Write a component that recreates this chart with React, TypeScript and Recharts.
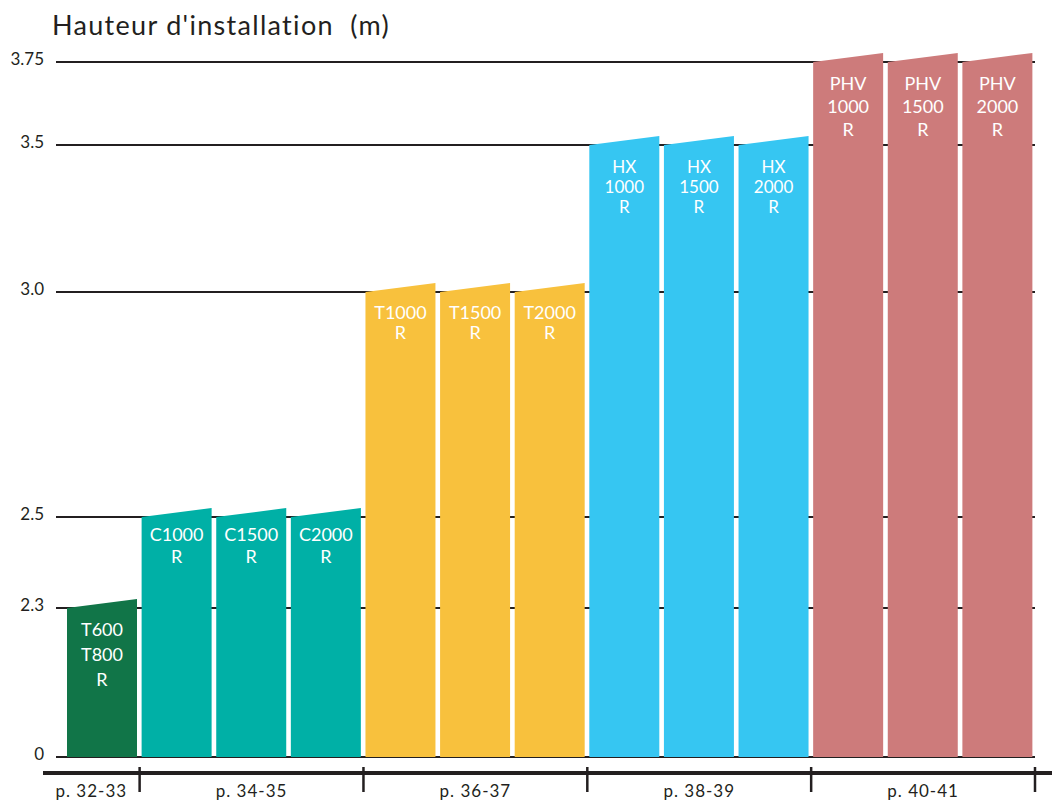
import React from 'react';
import { BarChart, Bar, XAxis, YAxis, CartesianGrid } from 'recharts';

// ---------- data ----------
const models = [
  'T600\nT800\nR',
  'C1000\nR', 'C1500\nR', 'C2000\nR',
  'T1000\nR', 'T1500\nR', 'T2000\nR',
  'HX\n1000\nR', 'HX\n1500\nR', 'HX\n2000\nR',
  'PHV\n1000\nR', 'PHV\n1500\nR', 'PHV\n2000\nR',
];
const heights = [2.3, 2.5, 2.5, 2.5, 3.0, 3.0, 3.0, 3.5, 3.5, 3.5, 3.75, 3.75, 3.75];
const groupIndex = [0, 1, 1, 1, 2, 2, 2, 3, 3, 3, 4, 4, 4];
const pageLabels = ['p. 32-33', 'p. 34-35', 'p. 36-37', 'p. 38-39', 'p. 40-41'];
const yTicks = [0, 2.3, 2.5, 3.0, 3.5, 3.75];
const yTickLabels = ['0', '2.3', '2.5', '3.0', '3.5', '3.75'];
const title = "Hauteur d'installation\u00a0 (m)";

// ---------- styles / layout ----------
const groupColors = ['#117548', '#00B0A6', '#F8C13D', '#36C6F2', '#CD7B7B'];
const labelStyle = [
  { first: 22, gap: 25, size: 18 },
  { first: 18, gap: 22, size: 18 },
  { first: 21, gap: 20, size: 18 },
  { first: 22, gap: 20, size: 17 },
  { first: 22, gap: 23, size: 18 },
];
// broken (piecewise) y axis: fraction of plot height at each tick value
const Y_KNOT_FRACTIONS = [0, 0.2144, 0.3453, 0.6691, 0.8806, 1];
const W = 1052;
const H = 800;
const Y_AXIS_W = 43;
const PAD_L = 22;
const PAD_R = 17;
const SLANT = 9;
const FONT = 'Lato, "Open Sans", sans-serif';
const INK = '#231f20';

// ---------- piecewise scale ----------
function piecewiseScale(knotsV: number[], knotsF: number[]): any {
  let dom = [knotsV[0], knotsV[knotsV.length - 1]];
  let rng = [0, 1];
  const frac = (v: number) => {
    const n = knotsV.length;
    let i = 0;
    while (i < n - 2 && v > knotsV[i + 1]) i++;
    const v0 = knotsV[i], v1 = knotsV[i + 1];
    const f0 = knotsF[i], f1 = knotsF[i + 1];
    return f0 + ((v - v0) / (v1 - v0)) * (f1 - f0);
  };
  const unfrac = (f: number) => {
    const n = knotsF.length;
    let i = 0;
    while (i < n - 2 && f > knotsF[i + 1]) i++;
    const v0 = knotsV[i], v1 = knotsV[i + 1];
    const f0 = knotsF[i], f1 = knotsF[i + 1];
    return v0 + ((f - f0) / (f1 - f0)) * (v1 - v0);
  };
  const s: any = (v: number) => rng[0] + (rng[1] - rng[0]) * frac(Number(v));
  s.domain = (d?: number[]) => {
    if (d === undefined) return dom.slice();
    dom = d.slice();
    return s;
  };
  s.range = (r?: number[]) => {
    if (r === undefined) return rng.slice();
    rng = r.slice();
    return s;
  };
  s.invert = (px: number) => unfrac((px - rng[0]) / (rng[1] - rng[0]));
  s.copy = () => piecewiseScale(knotsV, knotsF).domain(dom).range(rng);
  s.ticks = () => knotsV.slice();
  s.tickFormat = () => (v: number) => String(v);
  s.nice = () => s;
  s.clamp = () => s;
  s.rangeRound = (r: number[]) => s.range(r);
  return s;
}
const yScale = piecewiseScale(yTicks, Y_KNOT_FRACTIONS);

// ---------- derived tables ----------
const data = models.map((m, i) => ({ name: m, h: heights[i], g: groupIndex[i], slot: i + 0.5 }));
const groupEnds: number[] = [];
const groupStarts: number[] = [];
groupIndex.forEach((g, i) => {
  if (i === 0 || groupIndex[i - 1] !== g) groupStarts.push(i);
  if (i === groupIndex.length - 1 || groupIndex[i + 1] !== g) groupEnds.push(i + 1);
});
const slotPx = (W - Y_AXIS_W - PAD_L - PAD_R) / models.length;
const axisStartVal = -PAD_L / slotPx;
const pageCenters = groupStarts.map((s, k) => ((k === 0 ? axisStartVal : s) + groupEnds[k]) / 2);
const pageTicks = [...groupEnds, ...pageCenters];

// ---------- custom renderers ----------
const SlantBar = (props: any) => {
  const { x, y, width, height, payload } = props;
  const g = payload.g as number;
  const st = labelStyle[g];
  const lines = String(payload.name).split('\n');
  const d = `M${x},${y + height} L${x},${y} L${x + width},${y - SLANT} L${x + width},${y + height} Z`;
  return (
    <g>
      <path d={d} fill={groupColors[g]} />
      {lines.map((t, i) => (
        <text
          key={i}
          x={x + width / 2}
          y={y + st.first + i * st.gap + st.size * 0.36}
          textAnchor="middle"
          fill="#ffffff"
          fontSize={st.size}
          fontFamily={FONT}
        >
          {t}
        </text>
      ))}
    </g>
  );
};

const YTick = (props: any) => {
  const { x, y, payload } = props;
  const idx = yTicks.findIndex((t) => Math.abs(t - payload.value) < 1e-9);
  return (
    <text x={x + 1} y={y + 3} textAnchor="end" fill={INK} fontSize={17} fontFamily={FONT}>
      {idx >= 0 ? yTickLabels[idx] : String(payload.value)}
    </text>
  );
};

const PageTick = (props: any) => {
  const { x, y, payload } = props;
  const v = payload.value as number;
  const k = pageCenters.findIndex((c) => Math.abs(c - v) < 1e-9);
  if (k >= 0) {
    return (
      <text
        x={x}
        y={y + 24}
        textAnchor="middle"
        fill={INK}
        fontSize={17}
        letterSpacing={1}
        fontFamily={FONT}
      >
        {pageLabels[k]}
      </text>
    );
  }
  return <line x1={x} x2={x} y1={y - 6} y2={y + 19} stroke={INK} strokeWidth={2.5} />;
};

export default function App() {
  return (
    <div style={{ position: 'absolute', left: 0, top: 0, width: W, height: H, background: '#fff' }}>
      <div
        style={{
          position: 'absolute',
          left: 52,
          top: 9,
          fontFamily: FONT,
          fontSize: 27,
          letterSpacing: 1.3,
          lineHeight: 1.2,
          color: INK,
          whiteSpace: 'nowrap',
        }}
      >
        {title}
      </div>
      <BarChart
        width={W}
        height={H}
        data={data}
        margin={{ top: 62, right: 0, bottom: 0, left: 0 }}
        barSize={70}
      >
        <CartesianGrid
          vertical={false}
          horizontal={true}
          stroke={INK}
          strokeWidth={2}
          x={56}
          width={979}
        />
        <XAxis
          dataKey="name"
          type="category"
          padding={{ left: PAD_L, right: PAD_R }}
          height={16}
          tick={false}
          tickLine={false}
          axisLine={false}
        />
        <XAxis
          xAxisId="pg"
          dataKey="slot"
          type="number"
          scale="linear"
          domain={[0, models.length]}
          allowDataOverflow={true}
          padding={{ left: PAD_L, right: PAD_R }}
          ticks={pageTicks}
          interval={0}
          height={27}
          tickSize={0}
          tickMargin={0}
          tickLine={false}
          axisLine={{ stroke: INK, strokeWidth: 4 }}
          tick={<PageTick />}
        />
        <YAxis
          type="number"
          domain={[0, 3.75]}
          scale={yScale}
          ticks={yTicks}
          interval={0}
          width={Y_AXIS_W}
          tickSize={0}
          tickMargin={0}
          tickLine={false}
          axisLine={false}
          tick={<YTick />}
        />
        <Bar dataKey="h" isAnimationActive={false} shape={<SlantBar />} />
      </BarChart>
    </div>
  );
}
